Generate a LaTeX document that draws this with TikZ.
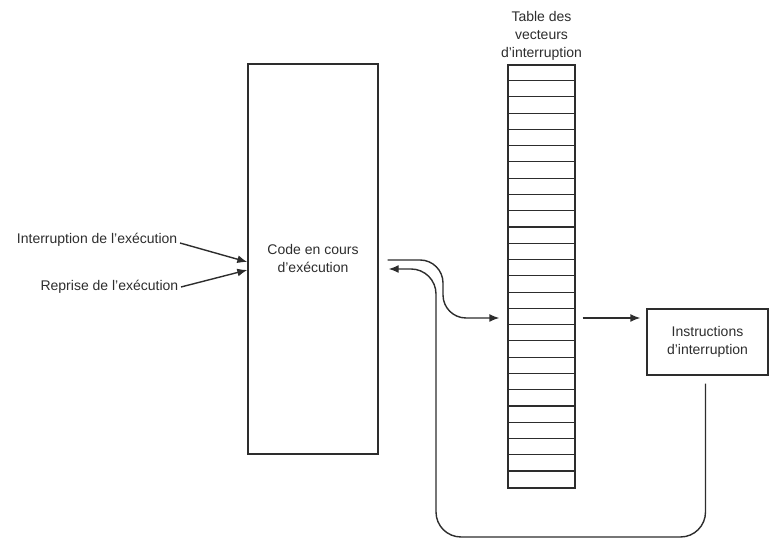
\documentclass[tikz,border=0pt]{standalone}
\usepackage{fontspec}
\setmainfont{Liberation Sans}
\definecolor{inkgray}{RGB}{45,45,45}
\usetikzlibrary{arrows.meta, positioning, calc}

\begin{document}
\begin{tikzpicture}[x=1pt, y=1pt, font=\fontsize{14}{18}\selectfont, line width=1.4pt, inkgray,
    box/.style={draw, inner sep=0pt, align=center},
    lbl/.style={anchor=east, inner sep=2pt},
    conn/.style={-{Latex[length=10pt,width=8pt]}}]
  \useasboundingbox (0,0) rectangle (771,540);
  % boxes
  \node[box, minimum width=130pt, minimum height=390pt] (code) at (313,281) {Code en cours\\d'exécution};
  \node[box, minimum width=67pt, minimum height=423pt] (table) at (541.5,263.5) {};
  \foreach \i in {1,...,25}
    \draw[line width=1.1pt] ($(table.north west)+(0,-\i*16.27)$) -- ++(67,0);
  \node[align=center, above=0pt of table] (tabtitle) {Table des\\vecteurs\\d'interruption};
  \node[box, minimum width=121pt, minimum height=66pt] (instr) at (707.5,198) {Instructions\\d'interruption};
  % labels on the left
  \node[lbl] (lblint) at (180,300) {Interruption de l'exécution};
  \node[lbl] (lblrep) at (181,253) {Reprise de l'exécution};
  \draw[conn] ([yshift=-3pt]lblint.east) -- ([yshift=-3pt]code.west);
  \draw[conn] (lblrep.east) -- ([yshift=-11pt]code.west);
  % jump to the vector table
  \coordinate (outA) at ($(code.east)+(9,-1)$);
  \coordinate (inA) at ($(table.west)+(-8,-41.5)$);
  \coordinate (bendA) at (443,0 |- inA);
  \draw[conn, rounded corners=23pt] (outA) -| (bendA) -- (inA);
  \coordinate (outB) at ($(table.east)+(7,-41.5)$);
  \coordinate (inB) at ($(outB -| instr.west)+(-6,0)$);
  \draw[conn] (outB) -- (inB);
  % return to the code
  \coordinate (retS) at ($(instr.south)+(-2,-8)$);
  \coordinate (retB) at (436,3);
  \coordinate (retA) at ($(code.east)+(10,-10)$);
  \draw[conn, rounded corners=25pt] (retS) |- (retB) |- (retA);
\end{tikzpicture}
\end{document}
